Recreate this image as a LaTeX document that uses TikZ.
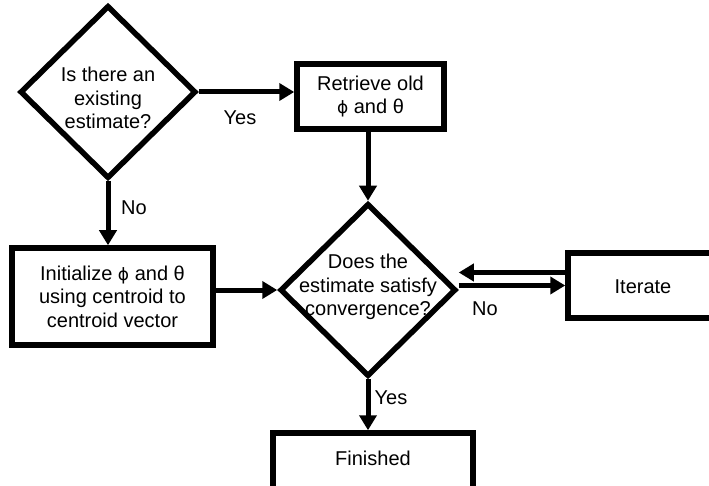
\documentclass[tikz,border=0pt]{standalone}
\usepackage{fontspec}
\setmainfont{Liberation Sans}
\newfontfamily\greekfont{DejaVu Sans}
\newcommand{\myphi}{{\greekfont\fontsize{17}{23.5}\selectfont ϕ}}
\usetikzlibrary{shapes.geometric,arrows.meta}
\begin{document}
\begin{tikzpicture}[x=1pt,y=-1pt,
  every node/.style={font=\fontsize{20}{23.5}\selectfont},
  box/.style={draw, line width=5.5pt, rectangle, inner sep=0pt},
  decision/.style={draw, diamond, line width=5.5pt, inner sep=0pt,
    minimum width=176pt, minimum height=173pt},
  txt/.style={align=center, inner sep=0pt},
  lbl/.style={inner sep=0pt},
  flow/.style={line width=5pt, -{Triangle[length=15pt,width=17pt]}}
]
% canvas
\path[use as bounding box, fill=white] (0,0) rectangle (709,486);

% decisions
\node[decision] (d1) at (108,92) {};
\node[txt] (d1t) at (108,98) {Is there an\\existing\\estimate?};
\node[decision] (d2) at (368,290) {};
\node[txt] (d2t) at (368,287) {Does the\\estimate satisfy\\convergence?};

% process boxes
\node[box, minimum width=147pt, minimum height=65pt, align=center] (b1) at (370.5,96.5) {Retrieve old\\\myphi{} and θ};
\node[box, minimum width=201pt, minimum height=97pt, align=center] (b2) at (112.5,296.5) {Initialize \myphi{} and θ\\using centroid to\\centroid vector};
\node[box, minimum width=148pt, minimum height=65pt] (it) at (642,285.5) {};
\node[txt] (itt) at (643,287) {Iterate};
\node[box, minimum width=200pt, minimum height=60pt] (fin) at (373,463) {};
\node[txt] (fint) at ([yshift=5pt]fin.center) {Finished};

% connectors
\draw[flow] (d1.east) -- (b1.west |- d1.east);
\draw[flow] (d1.south) -- (d1.south |- b2.north);
\draw[flow] (b2.east |- d2.west) -- (d2.west);
\draw[flow] (b1.south -| d2.north) -- (d2.north);
\draw[flow] (d2.south) -- (d2.south |- fin.north);
\coordinate (itU) at ([yshift=13pt]it.west);
\draw[flow] (itU) -- (itU -| d2.east);
\draw[flow] (it.west -| d2.east) -- (it.west);

% branch labels
\node[lbl] (yes1) at (240,118) {Yes};
\node[lbl] (no1) at (134,208) {No};
\node[lbl] (yes2) at (391,398) {Yes};
\node[lbl] (no2) at (485,309) {No};
\end{tikzpicture}
\end{document}
